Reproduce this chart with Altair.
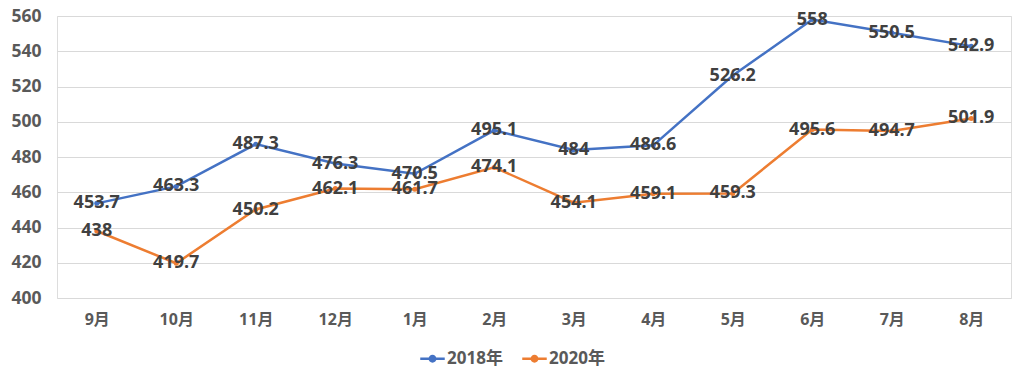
import altair as alt
import pandas as pd

months = ["9月", "10月", "11月", "12月", "1月", "2月", "3月", "4月", "5月", "6月", "7月", "8月"]
series_names = ["2018年", "2020年"]
values_2018 = [453.7, 463.3, 487.3, 476.3, 470.5, 495.1, 484, 486.6, 526.2, 558, 550.5, 542.9]
values_2020 = [438, 419.7, 450.2, 462.1, 461.7, 474.1, 454.1, 459.1, 459.3, 495.6, 494.7, 501.9]
colors = ["#4472C4", "#ED7D31"]
y_ticks = [400, 420, 440, 460, 480, 500, 520, 540, 560]

rows = []
for m, v in zip(months, values_2018):
    rows.append({"month": m, "series": series_names[0], "value": v, "label": f"{v:g}"})
for m, v in zip(months, values_2020):
    rows.append({"month": m, "series": series_names[1], "value": v, "label": f"{v:g}"})
df = pd.DataFrame(rows)

FONT = "Open Sans, Noto Sans CJK JP"

x = alt.X("month:N", sort=months, title=None,
          scale=alt.Scale(padding=0.5),
          axis=alt.Axis(labelAngle=0, ticks=False, domain=False, grid=False,
                        labelFontSize=16, labelFontWeight="bold", labelColor="#595959",
                        labelFont=FONT, labelPadding=13))
y = alt.Y("value:Q", title=None,
          scale=alt.Scale(domain=[400, 560], nice=False, zero=False),
          axis=alt.Axis(values=y_ticks, ticks=False, domain=False, grid=True,
                        gridColor="#d9d9d9", gridWidth=1,
                        labelFontSize=17.5, labelFontWeight="bold", labelColor="#595959",
                        labelFont=FONT, labelPadding=16))
color = alt.Color("series:N", sort=series_names,
                  scale=alt.Scale(domain=series_names, range=colors),
                  legend=alt.Legend(title=None, orient="none", direction="horizontal",
                                    legendX=362, legendY=329,
                                    symbolType="M-1,0H1M-0.22,0a0.22,0.22 0 1,0 0.44,0a0.22,0.22 0 1,0 -0.44,0",
                                    symbolSize=600, symbolStrokeWidth=2.5,
                                    labelFontSize=17, labelFontWeight="bold", labelColor="#595959",
                                    labelFont=FONT, columnPadding=14, labelOffset=1))

base = alt.Chart(df)
lines = base.mark_line(strokeWidth=2.5).encode(x=x, y=y, color=color)
points = base.mark_circle(size=25, opacity=1).encode(
    x=x, y=y,
    color=alt.Color("series:N", sort=series_names,
                    scale=alt.Scale(domain=series_names, range=colors), legend=None))
labels = base.mark_text(fontSize=18, fontWeight="bold", color="#404040", font=FONT,
                        align="center", baseline="middle").encode(x=x, y=y, text="label:N")

chart = alt.layer(lines, points, labels).properties(
    width=954, height=282,
    autosize=alt.AutoSizeParams(type="none"),
    padding={"left": 49, "top": 8, "right": 5, "bottom": 75},
).configure_view(stroke=None).configure(font=FONT)

chart.save("out.html", embed_options={"renderer": "svg", "actions": False})
